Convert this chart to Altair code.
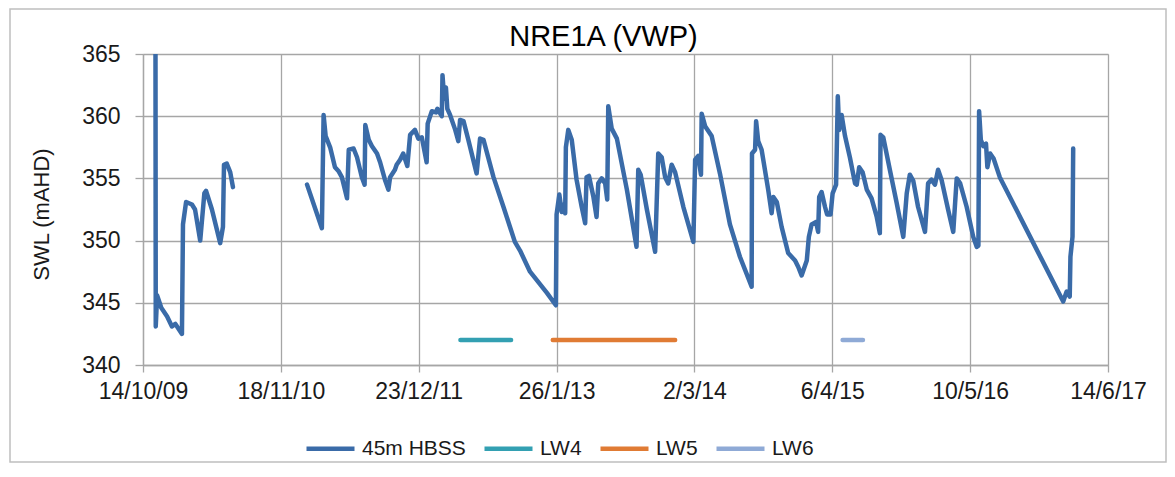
import altair as alt
import pandas as pd

FONT = "Liberation Sans"

series_names = ["45m HBSS", "LW4", "LW5", "LW6"]
series_colors = ["#3A6BA8", "#33A0B2", "#E07B34", "#8FAAD6"]

# 45m HBSS, first logging period
seg1_dates = ["2009-11-19", "2009-11-20", "2009-11-24", "2009-12-06", "2009-12-23", "2010-01-06",
              "2010-01-16", "2010-02-04", "2010-02-07", "2010-02-16", "2010-03-05", "2010-03-14",
              "2010-03-29", "2010-04-10", "2010-04-15", "2010-05-02", "2010-05-26", "2010-06-03",
              "2010-06-06", "2010-06-14", "2010-06-24", "2010-07-02"]
seg1_swl = [372.0, 343.1, 345.6, 344.6, 343.9, 343.1,
            343.3, 342.5, 351.3, 353.1, 352.9, 352.5,
            350.0, 353.8, 354.0, 352.5, 349.8, 351.1,
            356.1, 356.2, 355.5, 354.3]

# 45m HBSS, second logging period
seg2_dates = [
    "2011-02-02", "2011-03-17", "2011-03-22", "2011-03-28", "2011-04-10", "2011-04-24", "2011-05-04", "2011-05-14", "2011-05-29", "2011-06-03",
    "2011-06-17", "2011-06-27", "2011-07-11", "2011-07-19", "2011-07-21", "2011-07-31", "2011-08-09", "2011-08-24", "2011-09-02", "2011-09-16",
    "2011-09-26", "2011-10-01", "2011-10-15", "2011-10-20", "2011-10-30", "2011-11-08", "2011-11-20", "2011-11-28", "2011-12-12", "2011-12-22",
    "2012-01-01", "2012-01-15", "2012-01-18", "2012-01-30", "2012-02-11", "2012-02-15", "2012-02-28", "2012-03-01", "2012-03-06", "2012-03-11",
    "2012-03-15", "2012-03-23", "2012-04-07", "2012-04-16", "2012-04-21", "2012-05-01", "2012-05-15", "2012-06-08", "2012-06-18", "2012-06-28",
    "2012-07-27", "2012-08-25", "2012-09-27", "2012-10-12", "2012-11-10", "2012-12-29", "2013-01-24", "2013-01-26", "2013-02-03", "2013-02-10",
    "2013-02-15", "2013-02-20", "2013-02-22", "2013-03-01", "2013-03-11", "2013-03-25", "2013-04-09", "2013-04-19", "2013-04-23", "2013-04-30",
    "2013-05-13", "2013-05-22", "2013-05-27", "2013-06-06", "2013-06-16", "2013-06-22", "2013-06-25", "2013-07-05", "2013-07-20", "2013-08-18",
    "2013-09-15", "2013-09-20", "2013-09-27", "2013-10-15", "2013-11-08", "2013-11-17", "2013-11-27", "2013-12-07", "2013-12-16", "2013-12-26",
    "2014-01-05", "2014-01-29", "2014-02-27", "2014-03-04", "2014-03-13", "2014-03-21", "2014-03-23", "2014-04-02", "2014-04-21", "2014-05-15",
    "2014-06-13", "2014-07-12", "2014-08-15", "2014-08-16", "2014-08-25", "2014-08-28", "2014-09-03", "2014-09-13", "2014-10-02", "2014-10-12",
    "2014-10-17", "2014-10-27", "2014-11-10", "2014-11-29", "2014-12-19", "2014-12-28", "2015-01-07", "2015-01-22", "2015-01-28", "2015-02-05",
    "2015-02-18", "2015-02-24", "2015-02-27", "2015-03-06", "2015-03-16", "2015-03-22", "2015-04-01", "2015-04-07", "2015-04-17", "2015-04-22",
    "2015-04-26", "2015-05-03", "2015-05-13", "2015-05-27", "2015-06-11", "2015-06-16", "2015-06-23", "2015-07-03", "2015-07-15", "2015-07-29",
    "2015-08-13", "2015-08-22", "2015-08-24", "2015-09-01", "2015-09-20", "2015-10-10", "2015-10-29", "2015-11-08", "2015-11-17", "2015-11-27",
    "2015-12-11", "2015-12-31", "2016-01-09", "2016-01-19", "2016-01-29", "2016-02-07", "2016-02-17", "2016-03-07", "2016-03-22", "2016-04-01",
    "2016-04-11", "2016-04-30", "2016-05-19", "2016-05-29", "2016-06-03", "2016-06-05", "2016-06-10", "2016-06-17", "2016-06-25", "2016-06-29",
    "2016-07-07", "2016-07-17", "2016-08-04", "2017-02-04", "2017-02-14", "2017-02-23", "2017-02-25", "2017-03-03", "2017-03-05"]
seg2_swl = [
    354.5, 351.0, 360.1, 358.4, 357.5, 355.9, 355.6, 355.1, 353.4, 357.3,
    357.4, 356.7, 355.1, 354.5, 359.3, 358.1, 357.6, 357.0, 356.3, 354.9,
    354.1, 355.1, 355.7, 356.1, 356.5, 357.0, 356.0, 358.5, 358.9, 358.2,
    358.3, 356.3, 359.4, 360.4, 360.3, 360.6, 360.0, 363.3, 361.4, 362.3,
    360.6, 360.1, 358.9, 358.0, 359.7, 359.6, 358.1, 355.4, 358.2, 358.1,
    355.1, 352.7, 349.9, 349.2, 347.5, 345.8, 344.8, 352.1, 353.7, 352.3,
    352.9, 352.2, 357.5, 358.9, 358.1, 354.9, 352.7, 351.4, 355.1, 355.2,
    353.5, 351.9, 354.6, 355.0, 354.6, 353.3, 360.8, 359.0, 358.2, 354.1,
    349.5, 355.7, 355.3, 352.5, 349.1, 357.0, 356.7, 355.1, 354.6, 356.1,
    355.5, 352.7, 349.9, 356.5, 356.8, 355.3, 360.2, 359.2, 358.4, 355.4,
    351.3, 348.7, 346.3, 357.0, 357.3, 359.6, 358.0, 357.3, 354.1, 352.2,
    353.5, 353.1, 351.1, 349.0, 348.4, 347.9, 347.2, 348.4, 350.3, 351.3,
    351.5, 350.7, 353.5, 353.9, 352.7, 352.1, 352.1, 353.8, 354.5, 361.6,
    358.9, 360.1, 358.4, 356.7, 354.6, 354.5, 355.9, 355.5, 354.1, 353.4,
    351.9, 350.6, 358.5, 358.3, 355.7, 353.0, 350.3, 353.8, 355.3, 354.8,
    352.7, 350.7, 354.6, 354.9, 354.5, 355.7, 354.9, 352.5, 350.7, 355.0,
    354.6, 352.7, 350.3, 349.5, 349.6, 360.4, 358.1, 357.6, 357.8, 355.9,
    357.0, 356.6, 355.1, 345.1, 345.9, 345.5, 348.7, 350.3, 357.4]

# Longwall panel mining periods
lw_names = ["LW4", "LW5", "LW6"]
lw_start = ["2012-04-22", "2013-01-15", "2015-05-06"]
lw_end = ["2012-09-16", "2014-01-05", "2015-07-04"]
lw_level = 342.0

x_ticks = [(2009, 10, 14), (2010, 11, 18), (2011, 12, 23), (2013, 1, 26),
           (2014, 3, 2), (2015, 4, 6), (2016, 5, 10), (2017, 6, 14)]
y_ticks = [340, 345, 350, 355, 360, 365]

rows = []
for d, v in zip(seg1_dates, seg1_swl):
    rows.append({"date": d, "swl": v, "series": "45m HBSS", "seg": "hbss-1"})
for d, v in zip(seg2_dates, seg2_swl):
    rows.append({"date": d, "swl": v, "series": "45m HBSS", "seg": "hbss-2"})
for n, s, e in zip(lw_names, lw_start, lw_end):
    rows.append({"date": s, "swl": lw_level, "series": n, "seg": n})
    rows.append({"date": e, "swl": lw_level, "series": n, "seg": n})
df = pd.DataFrame(rows)

GRID = "#A6A6A6"
W, H = 965, 311

x_enc = alt.X(
    "date:T",
    scale=alt.Scale(
        type="utc",
        domain=[alt.DateTime(year=2009, month=10, date=14, utc=True),
                alt.DateTime(year=2017, month=6, date=14, utc=True)],
        nice=False,
    ),
    axis=alt.Axis(
        values=[alt.DateTime(year=a, month=b, date=c, utc=True) for a, b, c in x_ticks],
        labelExpr="utcFormat(datum.value, '%-d/%-m/%y')",
        grid=True, gridColor=GRID, gridWidth=1.3,
        domainColor=GRID, domainWidth=1.3,
        tickColor=GRID, tickSize=7, tickWidth=1.3,
        labelFont=FONT, labelFontSize=23, labelColor="#1a1a1a",
        labelPadding=8, labelOverlap=False, labelFlush=False, labelBound=False,
    ),
    title=None,
)
y_enc = alt.Y(
    "swl:Q",
    scale=alt.Scale(domain=[340, 365], nice=False, zero=False),
    axis=alt.Axis(
        values=y_ticks,
        grid=True, gridColor=GRID, gridWidth=1.3,
        domainColor=GRID, domainWidth=1.3,
        tickColor=GRID, tickSize=8, tickWidth=1.3,
        labelFont=FONT, labelFontSize=23, labelColor="#1a1a1a", labelPadding=15,
        title="SWL (mAHD)", titleFont=FONT, titleFontSize=22, titleFontWeight="normal",
        titleColor="#1a1a1a", titleAngle=270, titleX=-102, titleY=160,
        titleAlign="center", titleBaseline="middle",
    ),
)

lines = alt.Chart(df).mark_line(strokeWidth=4.5, clip=True, strokeJoin="round", strokeCap="round").encode(
    x=x_enc,
    y=y_enc,
    color=alt.Color(
        "series:N",
        scale=alt.Scale(domain=series_names, range=series_colors),
        legend=alt.Legend(
            title=None, orient="none", legendX=161, legendY=368, direction="horizontal",
            symbolType="stroke", symbolSize=2304, symbolStrokeWidth=4.5,
            labelFont=FONT, labelFontSize=21, labelColor="#1a1a1a", labelOffset=5,
            columnPadding=9, padding=0,
        ),
    ),
    detail="seg:N",
)

frame = alt.Chart(pd.DataFrame({"k": [0]})).mark_rect(
    fillOpacity=0, stroke="#BFBFBF", strokeWidth=1.5
).encode(
    x=alt.value(-133), x2=alt.value(1023), y=alt.value(-45), y2=alt.value(408)
)

chart = alt.layer(frame, lines).properties(
    width=W, height=H,
    title=alt.Title("NRE1A (VWP)", font=FONT, fontSize=29, fontWeight="normal", color="#000000",
                    anchor="middle", frame="group", dx=-22, dy=73, offset=6, baseline="alphabetic"),
    autosize=alt.AutoSizeParams(type="none"),
    padding={"left": 135, "top": 46, "right": 59, "bottom": 98},
).configure_view(strokeWidth=0).configure(background="white")

chart.save("out.html", embed_options={"renderer": "svg", "actions": False})
